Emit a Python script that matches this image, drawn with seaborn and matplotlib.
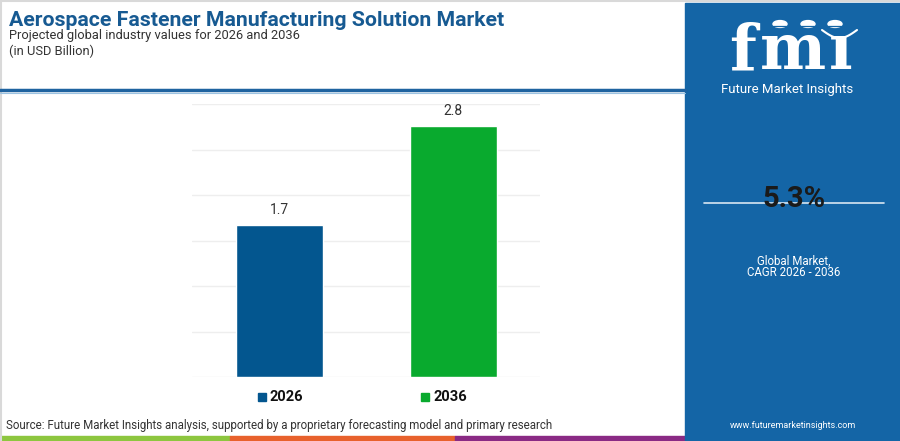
import numpy as np
import pandas as pd
import seaborn as sns
import matplotlib.pyplot as plt
from matplotlib.patches import Rectangle, Circle
from matplotlib.lines import Line2D

# data
years = ['2026', '2036']
values = [1.7, 2.8]
bar_colors = ['#03568f', '#09aa2e']
cagr = '5.3%'

W, H = 900, 441

def fx(x):
    return x / W

def fy(y):
    return 1 - y / H

sns.set_theme(style='white')
plt.rcParams['font.family'] = ['Roboto', 'DejaVu Sans']

fig = plt.figure(figsize=(9, 4.41), dpi=100)
fig.patch.set_facecolor('white')

df = pd.DataFrame({'year': years, 'value': values})

ax = fig.add_axes([fx(192), fy(377), fx(540) - fx(192), fy(104) - fy(377)])
sns.barplot(data=df, x='year', y='value', hue='year', palette=bar_colors,
            width=0.5, legend=False, ax=ax, saturation=1)
ymax = 3.05
ax.set_ylim(0, ymax)
ax.set_xlim(-0.5, 1.5)
ax.set_yticks(np.linspace(0, ymax, 7))
ax.yaxis.grid(True, color='#eeeeee', linewidth=1)
ax.set_axisbelow(True)
ax.set_xticks([])
ax.set_yticklabels([])
ax.tick_params(left=False, bottom=False)
ax.set_xlabel('')
ax.set_ylabel('')
for s in ax.spines.values():
    s.set_visible(False)
for cont in ax.containers:
    ax.bar_label(cont, labels=[f'{v:.1f}' for v in cont.datavalues],
                 padding=6, fontsize=10, color='#333333')

# thin frame
fig.add_artist(Line2D([0, 1], [fy(1), fy(1)], color='#d9d9d9', linewidth=1.5))
fig.add_artist(Line2D([fx(1), fx(1)], [0, 1], color='#d9d9d9', linewidth=1.5))

# header
fig.text(fx(9), fy(20), 'Aerospace Fastener Manufacturing Solution Market',
         fontsize=15.3, fontweight='bold', color='#175a92', va='center', ha='left')
fig.text(fx(9), fy(35), 'Projected global industry values for 2026 and 2036',
         fontsize=9.3, color='#333333', va='center', ha='left')
fig.text(fx(9), fy(51), '(in USD Billion)',
         fontsize=9.3, color='#333333', va='center', ha='left')
fig.add_artist(Line2D([0, fx(685)], [fy(90), fy(90)], color='#1f63a0', linewidth=2.5))
fig.add_artist(Line2D([0, fx(685)], [fy(93), fy(93)], color='#9cc3e2', linewidth=0.8))

# legend
for i, (lab, c) in enumerate(zip(years, bar_colors)):
    x0 = [258, 421][i]
    fig.add_artist(Rectangle((fx(x0), fy(401)), fx(8), 8 / H, color=c))
    fig.text(fx(x0 + 12), fy(397), lab, fontsize=10.5, fontweight='bold',
             color='#111111', va='center', ha='left')

# source
fig.text(fx(6), fy(425),
         'Source: Future Market Insights analysis, supported by a proprietary forecasting model and primary research',
         fontsize=8.3, color='#333333', va='center', ha='left')

# bottom stripes
for x0, x1, c in [(0, 230, '#8dc63f'), (230, 455, '#e8612c'), (455, 685, '#8a2a84')]:
    fig.add_artist(Rectangle((fx(x0), 0), fx(x1 - x0), 5 / H, color=c))

# right panel
panel = '#1465a6'
fig.add_artist(Rectangle((fx(685), 0), fx(215), fy(3), color=panel))

# logo
for ch, cx in [('f', 743), ('m', 793), ('ı', 841)]:
    fig.text(fx(cx), fy(69), ch, fontsize=45, fontweight='bold', color='white',
             va='baseline', ha='center', family='DejaVu Serif')
for yy in np.arange(26, 70, 4.5):
    fig.add_artist(Line2D([fx(715), fx(860)], [fy(yy), fy(yy)], color=panel, linewidth=0.9))
for cx in [780, 808, 835]:
    fig.add_artist(Circle((fx(cx), fy(24)), 7 / W, color='white',
                          transform=fig.transFigure))
t = np.linspace(0, 1, 30)
fig.add_artist(Line2D(fx(822 + 35 * t), fy(30 + 8 * np.sin(np.pi * t)),
                      color='white', linewidth=1.5))
fig.text(fx(787), fy(90), 'Future Market Insights', fontsize=9.5, color='white',
         va='center', ha='center')

# cagr
fig.add_artist(Line2D([fx(704), fx(884)], [fy(203), fy(203)], color='#d8e6f2', linewidth=1.2))
fig.text(fx(794), fy(199), cagr, fontsize=21, fontweight='bold', color='#1a1a1a',
         va='center', ha='center')
fig.text(fx(794), fy(261), 'Global Market,', fontsize=8.3, color='white',
         va='center', ha='center')
fig.text(fx(794), fy(273), 'CAGR 2026 - 2036', fontsize=8.3, color='white',
         va='center', ha='center')
fig.text(fx(793), fy(425), 'www.futuremarketinsights.com', fontsize=6.5, color='white',
         va='center', ha='center')

fig.savefig('out.png', dpi=100)
